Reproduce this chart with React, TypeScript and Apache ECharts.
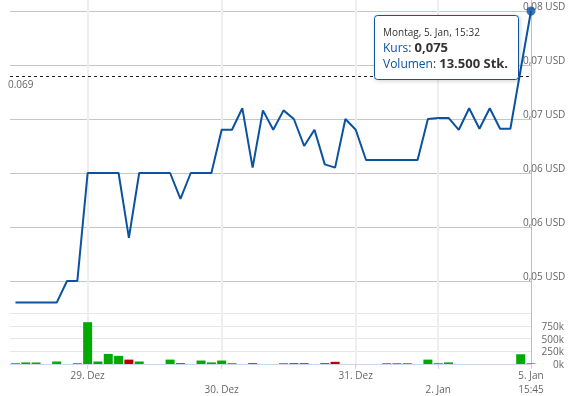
import React, { useEffect, useRef } from 'react';
import * as echarts from 'echarts';

// Price per trade point (ordinal axis, 51 points)
const prices: number[] = [
  0.048, 0.048, 0.048, 0.048, 0.048, 0.050, 0.050,
  0.060, 0.060, 0.060, 0.060, 0.054, 0.060, 0.060, 0.060, 0.060, 0.0576, 0.060, 0.060, 0.060,
  0.064, 0.064, 0.066, 0.0605, 0.0658, 0.064, 0.0658, 0.065, 0.0625, 0.064, 0.0608, 0.0605, 0.065,
  0.064, 0.0612, 0.0612, 0.0612, 0.0612, 0.0612, 0.0612, 0.065,
  0.0651, 0.0651, 0.064, 0.066, 0.0641, 0.066, 0.0641, 0.0641, 0.0696,
  0.075,
];

const volumes: number[] = [
  15000, 31000, 31000, 0, 49000, 0, 15000,
  820000, 49000, 198000, 160000, 86000, 49000, 0, 0, 86000, 15000, 0, 68000, 31000,
  68000, 15000, 0, 15000, 0, 0, 15000, 15000, 15000, 0, 15000, 43000, 0,
  0, 0, 0, 15000, 15000, 15000, 0, 86000,
  15000, 31000, 0, 0, 0, 0, 0, 0, 191000,
  13500,
];

const dayTicks: number[] = [7, 20, 33, 41, 50];
const dayLabels: string[] = ['29. Dez', '\n30. Dez', '31. Dez', '\n2. Jan', '5. Jan\n15:45'];
const referenceLine = 0.069;
const tooltipTitle = 'Montag, 5. Jan, 15:32';

const BLUE = '#0b52a0';
const FONT = '"Open Sans", "Noto Sans", sans-serif';
const X_MIN = -0.53;
const X_MAX = prices.length - 1;

function fmtPrice(v: number) {
  return (Math.round(v * 100 + 1e-6) / 100).toFixed(2).replace('.', ',') + ' USD';
}

export default function App() {
  const ref = useRef<HTMLDivElement>(null);
  useEffect(() => {
    if (!ref.current) return;
    const chart = echarts.init(ref.current, undefined, { renderer: 'svg' });
    const last = prices.length - 1;
    const priceData = prices.map((p, i) => [i, p]);
    const volData = volumes.map((v, i) => ({
      value: [i, v],
      itemStyle: { color: i > 0 && prices[i] < prices[i - 1] ? '#b80000' : '#00aa00' },
    }));
    const lastPriceStr = prices[last].toFixed(3).replace('.', ',');
    const lastVolStr = volumes[last].toLocaleString('de-DE');
    const richStyles = {
      k: { fill: BLUE, fontSize: 12, fontFamily: FONT, lineHeight: 13 },
      c: { fill: '#333', fontSize: 12, fontFamily: FONT, lineHeight: 13 },
      b: { fill: '#333', fontSize: 13, fontWeight: 'bold', fontFamily: FONT, lineHeight: 13 },
    };

    chart.setOption({
      animation: false,
      textStyle: { fontFamily: FONT },
      grid: [
        { left: 10, right: 45, top: 11, height: 270 },
        { left: 10, right: 45, top: 313, height: 54 },
        { left: 10, right: 45, top: 0, height: 367 },
      ],
      xAxis: [
        { type: 'value', gridIndex: 0, min: X_MIN, max: X_MAX, show: false },
        {
          type: 'value', gridIndex: 1, min: X_MIN, max: X_MAX,
          axisLine: { show: true, onZero: false, lineStyle: { color: '#ccd6eb' } },
          axisTick: { show: true, customValues: dayTicks, length: 5, lineStyle: { color: '#ccd6eb' } },
          splitLine: { show: false },
          axisLabel: {
            customValues: dayTicks,
            margin: 4,
            color: '#666',
            fontSize: 10,
            lineHeight: 14,
            fontFamily: FONT,
            formatter: (v: number) => dayLabels[dayTicks.indexOf(Math.round(v))] ?? '',
          },
        },
        { type: 'value', gridIndex: 2, min: X_MIN, max: X_MAX, show: false },
      ],
      yAxis: [
        {
          type: 'value', gridIndex: 0, position: 'right', min: 0.05, max: 0.075, interval: 0.005,
          axisLine: { show: false }, axisTick: { show: false },
          splitLine: { lineStyle: { color: '#c6c6c6', width: 1 } },
          axisLabel: {
            margin: -8, align: 'left', verticalAlign: 'bottom', color: '#666', fontSize: 10,
            fontFamily: FONT, lineHeight: 11, padding: 0,
            formatter: fmtPrice,
          },
        },
        {
          type: 'value', gridIndex: 1, position: 'right', min: 0, max: 1000000, interval: 250000,
          axisLine: { show: false }, axisTick: { show: false },
          splitLine: { lineStyle: { color: '#e6e6e6' } },
          axisLabel: {
            margin: 33, align: 'right', color: '#666', fontSize: 10, fontFamily: FONT,
            showMaxLabel: false, padding: [0, 0, 1, 0],
            formatter: (v: number) => Math.round(v / 1000) + 'k',
          },
        },
        { type: 'value', gridIndex: 2, min: 0, max: 1, show: false },
      ],
      series: [
        {
          type: 'scatter', xAxisIndex: 2, yAxisIndex: 2, data: [[X_MIN, -1]], symbolSize: 0,
          silent: true, z: 0,
          markLine: {
            silent: true, symbol: ['none', 'none'], label: { show: false }, animation: false, z: 0,
            data: [
              ...dayTicks.slice(0, -1).map((t) => ({ xAxis: t, lineStyle: { color: '#eeeeee', width: 2, type: 'solid' } })),
              { xAxis: dayTicks[dayTicks.length - 1], lineStyle: { color: '#c0c0c0', width: 1, type: 'solid' } },
            ],
          },
        },
        {
          type: 'line', xAxisIndex: 0, yAxisIndex: 0, data: priceData, showSymbol: false,
          clip: false, lineStyle: { color: BLUE, width: 2 }, itemStyle: { color: BLUE }, z: 5,
          markLine: {
            silent: true, symbol: ['none', 'none'], animation: false, precision: 4, z: 4,
            lineStyle: { color: '#222', type: [3, 3], width: 1 },
            label: {
              show: true, position: 'insideStartBottom', formatter: String(referenceLine),
              color: '#666', fontSize: 10, fontFamily: FONT, distance: [-2, 3],
            },
            data: [{ yAxis: referenceLine }],
          },
        },
        {
          type: 'scatter', xAxisIndex: 0, yAxisIndex: 0, data: [[last, prices[last]]],
          symbolSize: 9, clip: false, itemStyle: { color: BLUE }, z: 6,
        },
        {
          type: 'bar', xAxisIndex: 1, yAxisIndex: 1, data: volData, barWidth: 9, clip: false, z: 3,
        },
      ],
      graphic: [
        {
          type: 'rect', z: 100, shape: { x: 374.5, y: 15.5, width: 144, height: 64, r: 3 },
          style: {
            fill: '#ffffff', stroke: BLUE, lineWidth: 1,
            shadowBlur: 4, shadowColor: 'rgba(0,0,0,0.18)', shadowOffsetX: 1, shadowOffsetY: 1,
          },
        },
        {
          type: 'text', z: 101, x: 383, y: 31.5,
          style: { text: tooltipTitle, fill: '#333', font: `10px ${FONT}`, verticalAlign: 'middle' },
        },
        {
          type: 'text', z: 101, x: 383, y: 47,
          style: { text: `{k|Kurs}{c|: }{b|${lastPriceStr}}`, verticalAlign: 'middle', rich: richStyles },
        },
        {
          type: 'text', z: 101, x: 383, y: 63,
          style: { text: `{k|Volumen}{c|: }{b|${lastVolStr} Stk.}`, verticalAlign: 'middle', rich: richStyles },
        },
      ],
    });
    return () => chart.dispose();
  }, []);
  return <div ref={ref} style={{ position: 'fixed', left: 0, top: 0, width: 576, height: 396 }} />;
}
